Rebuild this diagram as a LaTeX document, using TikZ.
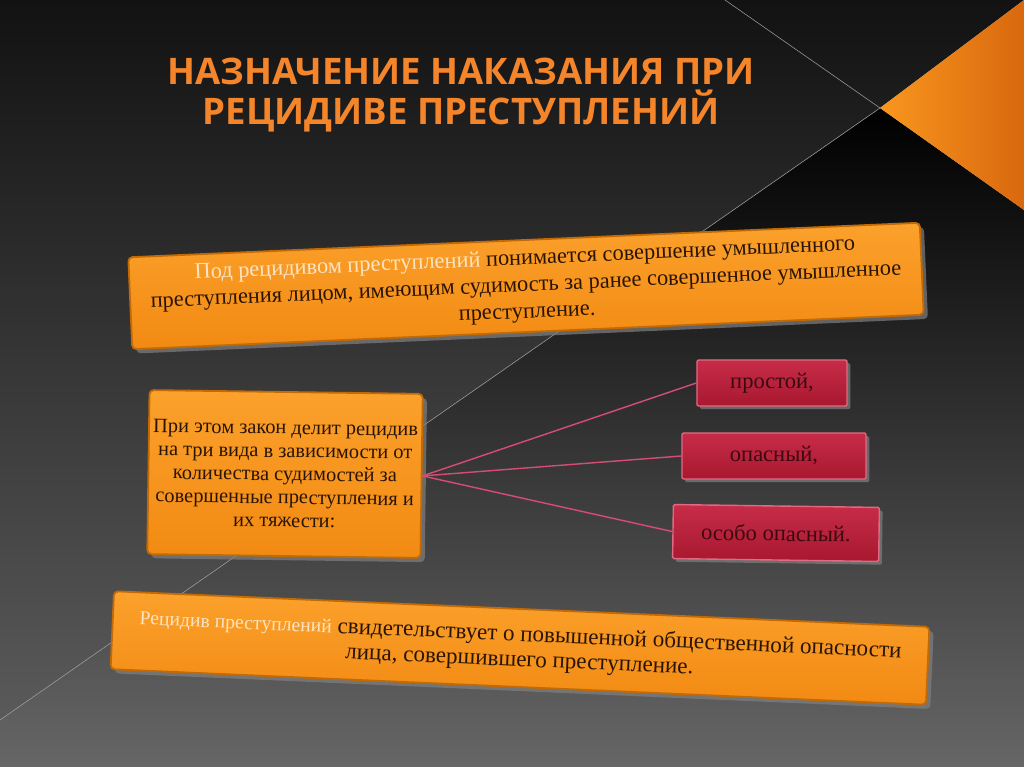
\documentclass[tikz,border=0pt]{standalone}
\usepackage{fontspec}
\setmainfont{Liberation Serif}
\newfontfamily\titlefont{Open Sans}
\usetikzlibrary{shadows}
\definecolor{bgtop}{HTML}{121212}
\definecolor{bgmid}{HTML}{1E1E1E}
\definecolor{bgbottom}{HTML}{5A5A5A}
\definecolor{bgdark}{HTML}{000000}
\definecolor{bgdarkmid}{HTML}{151515}
\definecolor{bglow}{HTML}{666666}
\definecolor{cornerlight}{HTML}{F9961E}
\definecolor{cornerdark}{HTML}{D9680E}
\definecolor{boxlight}{HTML}{FBA12C}
\definecolor{boxdark}{HTML}{F28A12}
\definecolor{boxrim}{HTML}{C26A06}
\definecolor{redlight}{HTML}{C72C48}
\definecolor{reddark}{HTML}{A8182F}
\definecolor{redrim}{HTML}{E06A82}
\definecolor{branchpink}{HTML}{D84C74}
\definecolor{inkdark}{HTML}{2A1404}
\definecolor{inklight}{HTML}{FCE4C2}
\definecolor{inkred}{HTML}{3A0A10}
\definecolor{titleorange}{HTML}{F5852A}
\tikzstyle{orangebox}=[draw=boxrim, line width=1.3pt, top color=boxlight, bottom color=boxdark, rounded corners=3pt, drop shadow={opacity=0.7, shadow xshift=3pt, shadow yshift=-3pt}, align=center, inner sep=3pt, text=inkdark]
\tikzstyle{redbox}=[draw=redrim, line width=1pt, top color=redlight, bottom color=reddark, rounded corners=1pt, drop shadow={opacity=0.7}, align=center, text=inkred, font=\rmfamily\fontsize{16}{18}\selectfont]
\tikzstyle{branch}=[draw=branchpink, line width=1pt]
\tikzstyle{rule}=[draw=gray!80, line width=0.4pt]

\begin{document}
\begin{tikzpicture}[x=0.025cm, y=-0.025cm]
\useasboundingbox (0,0) rectangle (1024,767);
% background
\shade[top color=bgtop, middle color=bgmid, bottom color=bgbottom] (0,0) -- (1024,0) -- (880,108) -- (0,720) -- cycle;
\shade[top color=bgdark, middle color=bgdarkmid, bottom color=bglow] (880,108) -- (1024,210) -- (1024,767) -- (0,767) -- (0,720) -- cycle;
\shade[left color=cornerlight, right color=cornerdark] (1024,0) -- (880,108) -- (1024,210) -- cycle;
\coordinate (top) at (725,0);
\coordinate (apex) at (880,108);
\coordinate (low) at (0,720);
\draw[rule] (top) -- (apex) -- (low);
% title
\node (title) at (461,95) [align=center, text=titleorange, font=\titlefont\bfseries\fontsize{26}{28.5}\selectfont] {НАЗНАЧЕНИЕ НАКАЗАНИЯ ПРИ\\РЕЦИДИВЕ ПРЕСТУПЛЕНИЙ};
% boxes
\node (def) at (526,286) [orangebox, rotate=2.5, minimum width=19.8cm, minimum height=2.3cm, font=\rmfamily\fontsize{15.9}{19}\selectfont] {{\color{inklight}Под рецидивом преступлений} понимается совершение умышленного\\преступления лицом, имеющим судимость за ранее совершенное умышленное\\преступление.};
\node (kinds) at (285,474) [orangebox, rotate=-0.8, minimum width=6.8cm, minimum height=4.1cm, font=\rmfamily\fontsize{14.5}{16.5}\selectfont] {При этом закон делит рецидив\\на три вида в зависимости от\\количества судимостей за\\совершенные преступления и\\их тяжести:};
\node (simple) at (772,383) [redbox, minimum width=3.75cm, minimum height=1.15cm] {простой,};
\node (danger) at (774,456) [redbox, minimum width=4.6cm, minimum height=1.15cm] {опасный,};
\node (special) at (776,533) [redbox, rotate=-0.8, minimum width=5.15cm, minimum height=1.35cm] {особо опасный.};
\node (risk) at (520,648) [orangebox, rotate=-2.5, minimum width=20.4cm, minimum height=1.95cm, font=\rmfamily\fontsize{16.4}{18}\selectfont] {{\color{inklight}\fontsize{14}{18}\selectfont Рецидив преступлений} свидетельствует о повышенной общественной опасности\\лица, совершившего преступление.};
% branches
\draw[branch] (kinds.east) -- (simple.west);
\draw[branch] (kinds.east) -- (danger.west);
\draw[branch] (kinds.east) -- (special.west);
\end{tikzpicture}
\end{document}
